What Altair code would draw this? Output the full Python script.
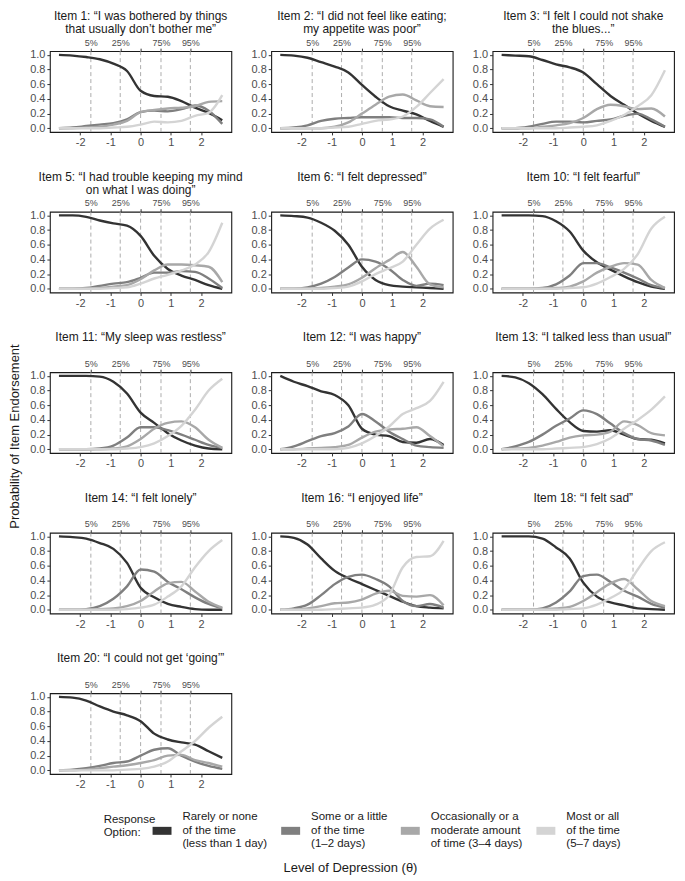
import altair as alt
import pandas as pd

FONT = "Liberation Sans"

THETA = [-2.7, -2.25, -1.8, -1.35, -0.9, -0.45, 0.0, 0.45, 0.9, 1.35, 1.8, 2.25, 2.7]
CATEGORIES = [
    "Rarely or none\nof the time\n(less than 1 day)",
    "Some or a little\nof the time\n(1–2 days)",
    "Occasionally or a\nmoderate amount\nof time (3–4 days)",
    "Most or all\nof the time\n(5–7 days)",
]
COLORS = ["#333333", "#7f7f7f", "#a8a8a8", "#d4d4d4"]
PERCENTILES = [-1.645, -0.674, 0.0, 0.674, 1.645]
PCT_LABELS = ["5%", "25%", "", "75%", "95%"]
X_TICKS = [-2, -1, 0, 1, 2]
Y_TICKS = [0.0, 0.2, 0.4, 0.6, 0.8, 1.0]

# Each item: rarely, some, occasionally, most (probabilities at THETA)
ITEM_1 = [
    [1.00, 0.99, 0.97, 0.94, 0.88, 0.78, 0.51, 0.44, 0.43, 0.37, 0.28, 0.21, 0.11],
    [0.00, 0.01, 0.03, 0.05, 0.07, 0.12, 0.22, 0.24, 0.23, 0.26, 0.31, 0.24, 0.06],
    [0.00, 0.00, 0.01, 0.02, 0.05, 0.10, 0.22, 0.25, 0.27, 0.28, 0.30, 0.36, 0.37],
    [0.00, 0.00, 0.00, 0.00, 0.01, 0.02, 0.05, 0.09, 0.08, 0.10, 0.17, 0.21, 0.45],
]
ITEM_2 = [
    [1.00, 0.99, 0.96, 0.90, 0.84, 0.76, 0.59, 0.43, 0.30, 0.24, 0.19, 0.10, 0.02],
    [0.00, 0.01, 0.04, 0.10, 0.13, 0.14, 0.15, 0.15, 0.15, 0.14, 0.14, 0.12, 0.02],
    [0.00, 0.00, 0.00, 0.00, 0.02, 0.08, 0.20, 0.32, 0.43, 0.46, 0.38, 0.30, 0.29],
    [0.00, 0.00, 0.00, 0.00, 0.01, 0.02, 0.06, 0.10, 0.12, 0.16, 0.29, 0.48, 0.67],
]
ITEM_3 = [
    [1.00, 0.99, 0.98, 0.93, 0.87, 0.83, 0.76, 0.60, 0.44, 0.32, 0.20, 0.10, 0.02],
    [0.00, 0.00, 0.02, 0.06, 0.09, 0.09, 0.08, 0.10, 0.12, 0.17, 0.20, 0.12, 0.02],
    [0.00, 0.00, 0.00, 0.02, 0.04, 0.07, 0.14, 0.26, 0.32, 0.30, 0.26, 0.27, 0.16],
    [0.00, 0.00, 0.00, 0.00, 0.00, 0.01, 0.02, 0.04, 0.10, 0.18, 0.30, 0.45, 0.79],
]
ITEM_5 = [
    [1.00, 1.00, 0.98, 0.93, 0.89, 0.86, 0.72, 0.45, 0.27, 0.18, 0.12, 0.05, 0.00],
    [0.00, 0.00, 0.01, 0.04, 0.07, 0.09, 0.15, 0.22, 0.22, 0.24, 0.23, 0.14, 0.01],
    [0.00, 0.00, 0.00, 0.01, 0.03, 0.05, 0.13, 0.25, 0.33, 0.33, 0.32, 0.30, 0.09],
    [0.00, 0.00, 0.00, 0.00, 0.01, 0.02, 0.07, 0.14, 0.19, 0.25, 0.33, 0.50, 0.90],
]
ITEM_6 = [
    [1.00, 0.99, 0.97, 0.90, 0.79, 0.60, 0.30, 0.12, 0.05, 0.03, 0.02, 0.01, 0.00],
    [0.00, 0.00, 0.02, 0.07, 0.16, 0.29, 0.40, 0.37, 0.27, 0.12, 0.04, 0.07, 0.05],
    [0.00, 0.00, 0.00, 0.01, 0.03, 0.06, 0.15, 0.28, 0.39, 0.50, 0.30, 0.06, 0.02],
    [0.00, 0.00, 0.00, 0.00, 0.01, 0.03, 0.10, 0.20, 0.28, 0.37, 0.60, 0.82, 0.94],
]
ITEM_10 = [
    [1.00, 1.00, 1.00, 0.99, 0.92, 0.78, 0.52, 0.36, 0.26, 0.17, 0.09, 0.03, 0.00],
    [0.00, 0.00, 0.00, 0.01, 0.06, 0.18, 0.35, 0.35, 0.29, 0.22, 0.14, 0.05, 0.01],
    [0.00, 0.00, 0.00, 0.00, 0.01, 0.03, 0.10, 0.22, 0.30, 0.35, 0.33, 0.12, 0.01],
    [0.00, 0.00, 0.00, 0.00, 0.00, 0.01, 0.02, 0.07, 0.16, 0.27, 0.47, 0.82, 0.98],
]
ITEM_11 = [
    [1.00, 1.00, 1.00, 0.99, 0.92, 0.76, 0.50, 0.36, 0.22, 0.12, 0.05, 0.01, 0.00],
    [0.00, 0.00, 0.00, 0.01, 0.05, 0.16, 0.30, 0.30, 0.26, 0.20, 0.13, 0.06, 0.02],
    [0.00, 0.00, 0.00, 0.00, 0.01, 0.04, 0.14, 0.28, 0.36, 0.38, 0.30, 0.13, 0.02],
    [0.00, 0.00, 0.00, 0.00, 0.00, 0.01, 0.03, 0.08, 0.18, 0.32, 0.54, 0.80, 0.96],
]
ITEM_12 = [
    [1.00, 0.92, 0.86, 0.79, 0.74, 0.60, 0.28, 0.20, 0.18, 0.10, 0.09, 0.14, 0.06],
    [0.00, 0.04, 0.11, 0.18, 0.22, 0.31, 0.48, 0.38, 0.24, 0.14, 0.05, 0.03, 0.02],
    [0.00, 0.00, 0.01, 0.02, 0.03, 0.06, 0.16, 0.24, 0.27, 0.28, 0.30, 0.18, 0.04],
    [0.00, 0.00, 0.00, 0.00, 0.00, 0.02, 0.08, 0.18, 0.31, 0.48, 0.56, 0.66, 0.92],
]
ITEM_13 = [
    [1.00, 0.98, 0.90, 0.75, 0.55, 0.37, 0.25, 0.24, 0.26, 0.20, 0.14, 0.13, 0.08],
    [0.00, 0.04, 0.10, 0.20, 0.32, 0.42, 0.53, 0.48, 0.35, 0.22, 0.14, 0.12, 0.06],
    [0.00, 0.01, 0.02, 0.05, 0.10, 0.16, 0.19, 0.20, 0.24, 0.38, 0.33, 0.22, 0.19],
    [0.00, 0.00, 0.00, 0.00, 0.01, 0.02, 0.03, 0.07, 0.15, 0.28, 0.40, 0.54, 0.72],
]
ITEM_14 = [
    [1.00, 0.99, 0.97, 0.91, 0.83, 0.64, 0.30, 0.17, 0.08, 0.04, 0.01, 0.00, 0.00],
    [0.00, 0.00, 0.01, 0.05, 0.15, 0.32, 0.55, 0.52, 0.38, 0.28, 0.17, 0.08, 0.02],
    [0.00, 0.00, 0.00, 0.01, 0.02, 0.05, 0.12, 0.25, 0.36, 0.38, 0.25, 0.11, 0.03],
    [0.00, 0.00, 0.00, 0.00, 0.00, 0.01, 0.03, 0.07, 0.18, 0.32, 0.58, 0.80, 0.95],
]
ITEM_16 = [
    [1.00, 0.98, 0.89, 0.70, 0.53, 0.43, 0.35, 0.27, 0.19, 0.11, 0.05, 0.03, 0.02],
    [0.00, 0.02, 0.07, 0.20, 0.35, 0.45, 0.48, 0.42, 0.32, 0.12, 0.05, 0.08, 0.03],
    [0.00, 0.00, 0.02, 0.05, 0.09, 0.10, 0.14, 0.22, 0.26, 0.19, 0.18, 0.20, 0.06],
    [0.00, 0.00, 0.00, 0.00, 0.01, 0.02, 0.03, 0.07, 0.20, 0.58, 0.72, 0.73, 0.94],
]
ITEM_18 = [
    [1.00, 1.00, 1.00, 0.97, 0.85, 0.70, 0.37, 0.18, 0.10, 0.06, 0.02, 0.01, 0.00],
    [0.00, 0.00, 0.00, 0.02, 0.10, 0.25, 0.46, 0.48, 0.38, 0.26, 0.18, 0.08, 0.03],
    [0.00, 0.00, 0.00, 0.01, 0.02, 0.04, 0.12, 0.24, 0.36, 0.42, 0.28, 0.12, 0.05],
    [0.00, 0.00, 0.00, 0.00, 0.00, 0.01, 0.02, 0.07, 0.16, 0.28, 0.55, 0.80, 0.92],
]
ITEM_20 = [
    [1.00, 0.99, 0.95, 0.87, 0.80, 0.75, 0.67, 0.50, 0.42, 0.38, 0.35, 0.26, 0.17],
    [0.00, 0.01, 0.03, 0.06, 0.10, 0.12, 0.20, 0.28, 0.30, 0.20, 0.12, 0.06, 0.02],
    [0.00, 0.00, 0.01, 0.03, 0.05, 0.07, 0.10, 0.14, 0.20, 0.21, 0.14, 0.10, 0.05],
    [0.00, 0.00, 0.00, 0.00, 0.00, 0.01, 0.02, 0.05, 0.12, 0.26, 0.40, 0.58, 0.73],
]

TITLES = {
    1: ["Item 1: “I was bothered by things", "that usually don’t bother me”"],
    2: ["Item 2: “I did not feel like eating;", "my appetite was poor”"],
    3: ["Item 3: “I felt I could not shake", "the blues...”"],
    5: ["Item 5: “I had trouble keeping my mind", "on what I was doing”"],
    6: ["Item 6: “I felt depressed”", " "],
    10: ["Item 10: “I felt fearful”", " "],
    11: ["Item 11: “My sleep was restless”", " "],
    12: ["Item 12: “I was happy”", " "],
    13: ["Item 13: “I talked less than usual”", " "],
    14: ["Item 14: “I felt lonely”", " "],
    16: ["Item 16: “I enjoyed life”", " "],
    18: ["Item 18: “I felt sad”", " "],
    20: ["Item 20: “I could not get ‘going’”", " "],
}
Y_TITLE = "Probability of Item Endorsement"
X_TITLE = "Level of Depression (θ)"
LEGEND_TITLE = ["Response", "Option:"]

ITEMS = [(1, ITEM_1), (2, ITEM_2), (3, ITEM_3), (5, ITEM_5), (6, ITEM_6), (10, ITEM_10),
         (11, ITEM_11), (12, ITEM_12), (13, ITEM_13), (14, ITEM_14), (16, ITEM_16),
         (18, ITEM_18), (20, ITEM_20)]

W, H = 182, 81

top_expr = " : ".join(f"datum.value == {v} ? '{l}'" for v, l in zip(PERCENTILES, PCT_LABELS)) + " : ''"
xscale = alt.Scale(domain=[-3, 3], nice=False, zero=False)
yscale = alt.Scale(domain=[-0.05, 1.05], nice=False, zero=False)
pct_df = pd.DataFrame({"q": PERCENTILES})

legend = alt.Legend(
    orient="none", legendX=54, legendY=755, direction="horizontal", columns=4,
    title=LEGEND_TITLE, titleOrient="left", titleFontSize=11.5,
    titleFontWeight="normal", titleFont=FONT, titleColor="#1a1a1a", titlePadding=-7,
    symbolType="M-1,1.42H1", symbolSize=361, symbolStrokeWidth=8, symbolOpacity=1,
    labelExpr="split(datum.label, '\\n')", labelAlign="left", labelOffset=7,
    labelFont=FONT, labelFontSize=11.5, labelColor="#1a1a1a", columnPadding=-3,
    labelLimit=200, padding=0,
)


def panel(num, series):
    rows = []
    for cat, vals in zip(CATEGORIES, series):
        for t, p in zip(THETA, vals):
            rows.append({"cat": cat, "theta": t, "p": p})
    data = pd.DataFrame(rows)

    if num == 20:
        xaxis = alt.Axis(orient="bottom", values=X_TICKS, labelExpr="'' + datum.value",
                         title=X_TITLE, titleX=301, titleY=94, titleAlign="center",
                         titleBaseline="middle", titleAngle=0, titleFontSize=13,
                         titleFontWeight="normal", titleFont=FONT, titleColor="#1a1a1a")
    else:
        xaxis = alt.Axis(orient="bottom", values=X_TICKS, labelExpr="'' + datum.value", title=None)
    if num == 11:
        yaxis = alt.Axis(values=Y_TICKS, format=".1f", title=Y_TITLE, titleX=-28, titleY=64,
                         titleAngle=270, titleAlign="center", titleBaseline="bottom",
                         titleFontSize=13, titleFontWeight="normal", titleFont=FONT,
                         titleColor="#1a1a1a")
        title_offset = -13
    else:
        yaxis = alt.Axis(values=Y_TICKS, format=".1f", title=None)
        title_offset = 2

    rules = alt.Chart(pct_df).mark_rule(color="#a3a3a3", strokeDash=[4, 3], strokeWidth=0.9).encode(
        x=alt.X("q:Q", scale=xscale, axis=alt.Axis(
            orient="top", values=PERCENTILES, labelExpr=top_expr, title=None,
            labelFontSize=9, labelPadding=1, tickSize=3))
    )
    lines = alt.Chart(data).mark_line(interpolate="monotone").encode(
        x=alt.X("theta:Q", scale=xscale, axis=xaxis),
        y=alt.Y("p:Q", scale=yscale, axis=yaxis),
        color=alt.Color("cat:N", scale=alt.Scale(domain=CATEGORIES, range=COLORS), legend=legend),
        strokeWidth=alt.value(2.4),
    )
    return alt.layer(rules, lines).resolve_axis(x="independent").properties(
        width=W, height=H,
        title=alt.TitleParams(text=TITLES[num], anchor="middle", fontSize=12, font=FONT,
                              fontWeight="normal", color="#1a1a1a", offset=title_offset,
                              lineHeight=13),
    )


panels = [panel(n, s) for n, s in ITEMS]
chart = alt.concat(*panels, columns=3, spacing={"row": 80, "column": 40}, bounds="flush").properties(
    padding={"left": 0, "top": 0, "right": 2, "bottom": 0},
).configure_view(stroke="#1a1a1a", strokeWidth=1.1).configure_axis(
    domain=False, grid=False, tickColor="#333333", tickSize=3, labelColor="#4d4d4d",
    labelFont=FONT, labelFontSize=11, labelPadding=2,
)

chart.save("out.html", embed_options={"renderer": "svg", "actions": False})
